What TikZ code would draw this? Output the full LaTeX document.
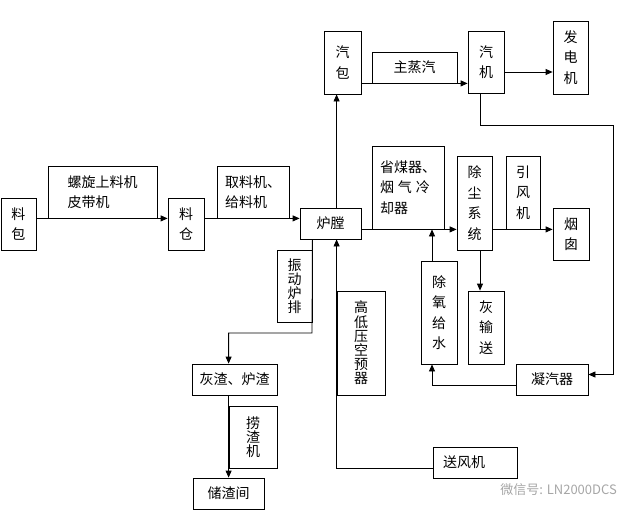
\documentclass[tikz,border=0pt]{standalone}
\usepackage{fontspec}
\setmainfont{Noto Sans CJK SC}
\usetikzlibrary{arrows.meta}
\begin{document}
\begin{tikzpicture}[x=1pt,y=-1pt,
 box/.style={draw, line width=0.8pt, inner sep=0pt, align=center, font=\fontsize{14}{20.5}\selectfont},
 tight/.style={font=\fontsize{14}{14.2}\selectfont},
 arr/.style={line width=0.8pt, -{Triangle[length=7pt,width=6pt]}},
 ln/.style={line width=0.8pt},
 wm/.style={text=black!35, font=\fontsize{13}{14}\selectfont, inner sep=0pt}]
\useasboundingbox (0,0) rectangle (637,520);
% boxes
\node[box, minimum width=35pt, minimum height=52pt] (liaobao) at (18.5,224) {料\\包};
\node[box, minimum width=109pt, minimum height=52pt, align=left] (luoxuan) at (102.5,192) {螺旋上料机\\皮带机};
\node[box, minimum width=36pt, minimum height=52pt] (liaocang) at (186,224) {料\\仓};
\node[box, minimum width=72pt, minimum height=52pt, align=left] (quliao) at (253,192) {取料机、\\给料机};
\node[box, minimum width=61pt, minimum height=31pt] (lutang) at (330.5,223.5) {炉膛};
\node[box, minimum width=37pt, minimum height=63pt] (qibao) at (342.5,62.5) {汽\\包};
\node[box, minimum width=85pt, minimum height=31pt] (zhuzheng) at (414.5,67.5) {主蒸汽};
\node[box, minimum width=36pt, minimum height=62pt] (qiji) at (486,62) {汽\\机};
\node[box, minimum width=35pt, minimum height=73pt] (fadian) at (570.5,57.5) {发\\电\\机};
\node[box, minimum width=72pt, minimum height=83pt, align=left] (shengmei) at (408,187.5) {省煤器、\\烟\hspace{4pt}气\hspace{4pt}冷\\却器};
\node[box, minimum width=35pt, minimum height=94pt] (chuchen) at (474.5,203) {除\\尘\\系\\统};
\node[box, minimum width=34pt, minimum height=73pt] (yinfeng) at (523,192.5) {引\\风\\机};
\node[box, minimum width=36pt, minimum height=52pt] (yancong) at (571,234) {烟\\囱};
\node[box, minimum width=36pt, minimum height=103pt] (chuyang) at (439,312.5) {除\\氧\\给\\水};
\node[box, minimum width=36pt, minimum height=73pt] (huishu) at (486,327.5) {灰\\输\\送};
\node[box, minimum width=72pt, minimum height=31pt] (ningqi) at (552,379.5) {凝汽器};
\node[box, tight, minimum width=35pt, minimum height=72pt] (zhendong) at (294.5,286) {振\\动\\炉\\排};
\node[box, minimum width=85pt, minimum height=31pt] (huizha) at (234.5,379.5) {灰渣、炉渣};
\node[box, tight, minimum width=48pt, minimum height=104pt] (kongyu) at (361,343) {高\\低\\压\\空\\预\\器};
\node[box, minimum width=84pt, minimum height=31pt, inner xsep=10pt, text width=64pt, align=left] (songfeng) at (475,462.5) {送风机};
\node[box, tight, minimum width=48pt, minimum height=62pt] (laozha) at (253,437) {捞\\渣\\机};
\node[box, minimum width=71pt, minimum height=31pt] (chuzha) at (228.5,493.5) {储渣间};
% coordinates
\coordinate (c1) at (613,125);
\coordinate (c2) at (312,333);
% connectors
\draw[arr] (liaobao.east |- luoxuan.south) -- (liaocang.west |- luoxuan.south);
\draw[arr] (liaocang.east |- quliao.south) -- (lutang.west |- quliao.south);
\draw[arr] (kongyu.west |- lutang.north) -- (kongyu.west |- qibao.south);
\draw[arr] (qibao.east |- zhuzheng.south) -- (qiji.west |- zhuzheng.south);
\draw[arr] ([yshift=-10pt]qiji.east) -- ([yshift=-10pt]qiji.east -| fadian.west);
\draw[arr] ([xshift=-6pt]qiji.south) |- (c1) |- ([yshift=5pt]ningqi.east);
\draw[arr] (lutang.east |- shengmei.south) -- (chuchen.west |- shengmei.south);
\draw[arr] (chuchen.east |- yinfeng.south) -- (yancong.west |- yinfeng.south);
\draw[arr] ([xshift=-7pt]chuyang.north) -- ([xshift=-7pt]chuyang.north |- shengmei.south);
\draw[arr] ([xshift=-6pt]huishu.north |- chuchen.south) -- ([xshift=-6pt]huishu.north);
\draw[arr] ([yshift=-5.5pt]ningqi.west) -| ([xshift=-7pt]chuyang.south);
\draw[arr] (zhendong.east |- lutang.south) -- (c2) -| (laozha.west |- huizha.north);
\draw[arr] ([yshift=-5.5pt]songfeng.west) -| (kongyu.west |- lutang.south);
\draw[arr] (laozha.west |- huizha.south) -- (laozha.west |- chuzha.north);
% watermark
\node[wm, anchor=east] (wmark) at (617,490) {微信号: LN2000DCS};
\end{tikzpicture}
\end{document}
